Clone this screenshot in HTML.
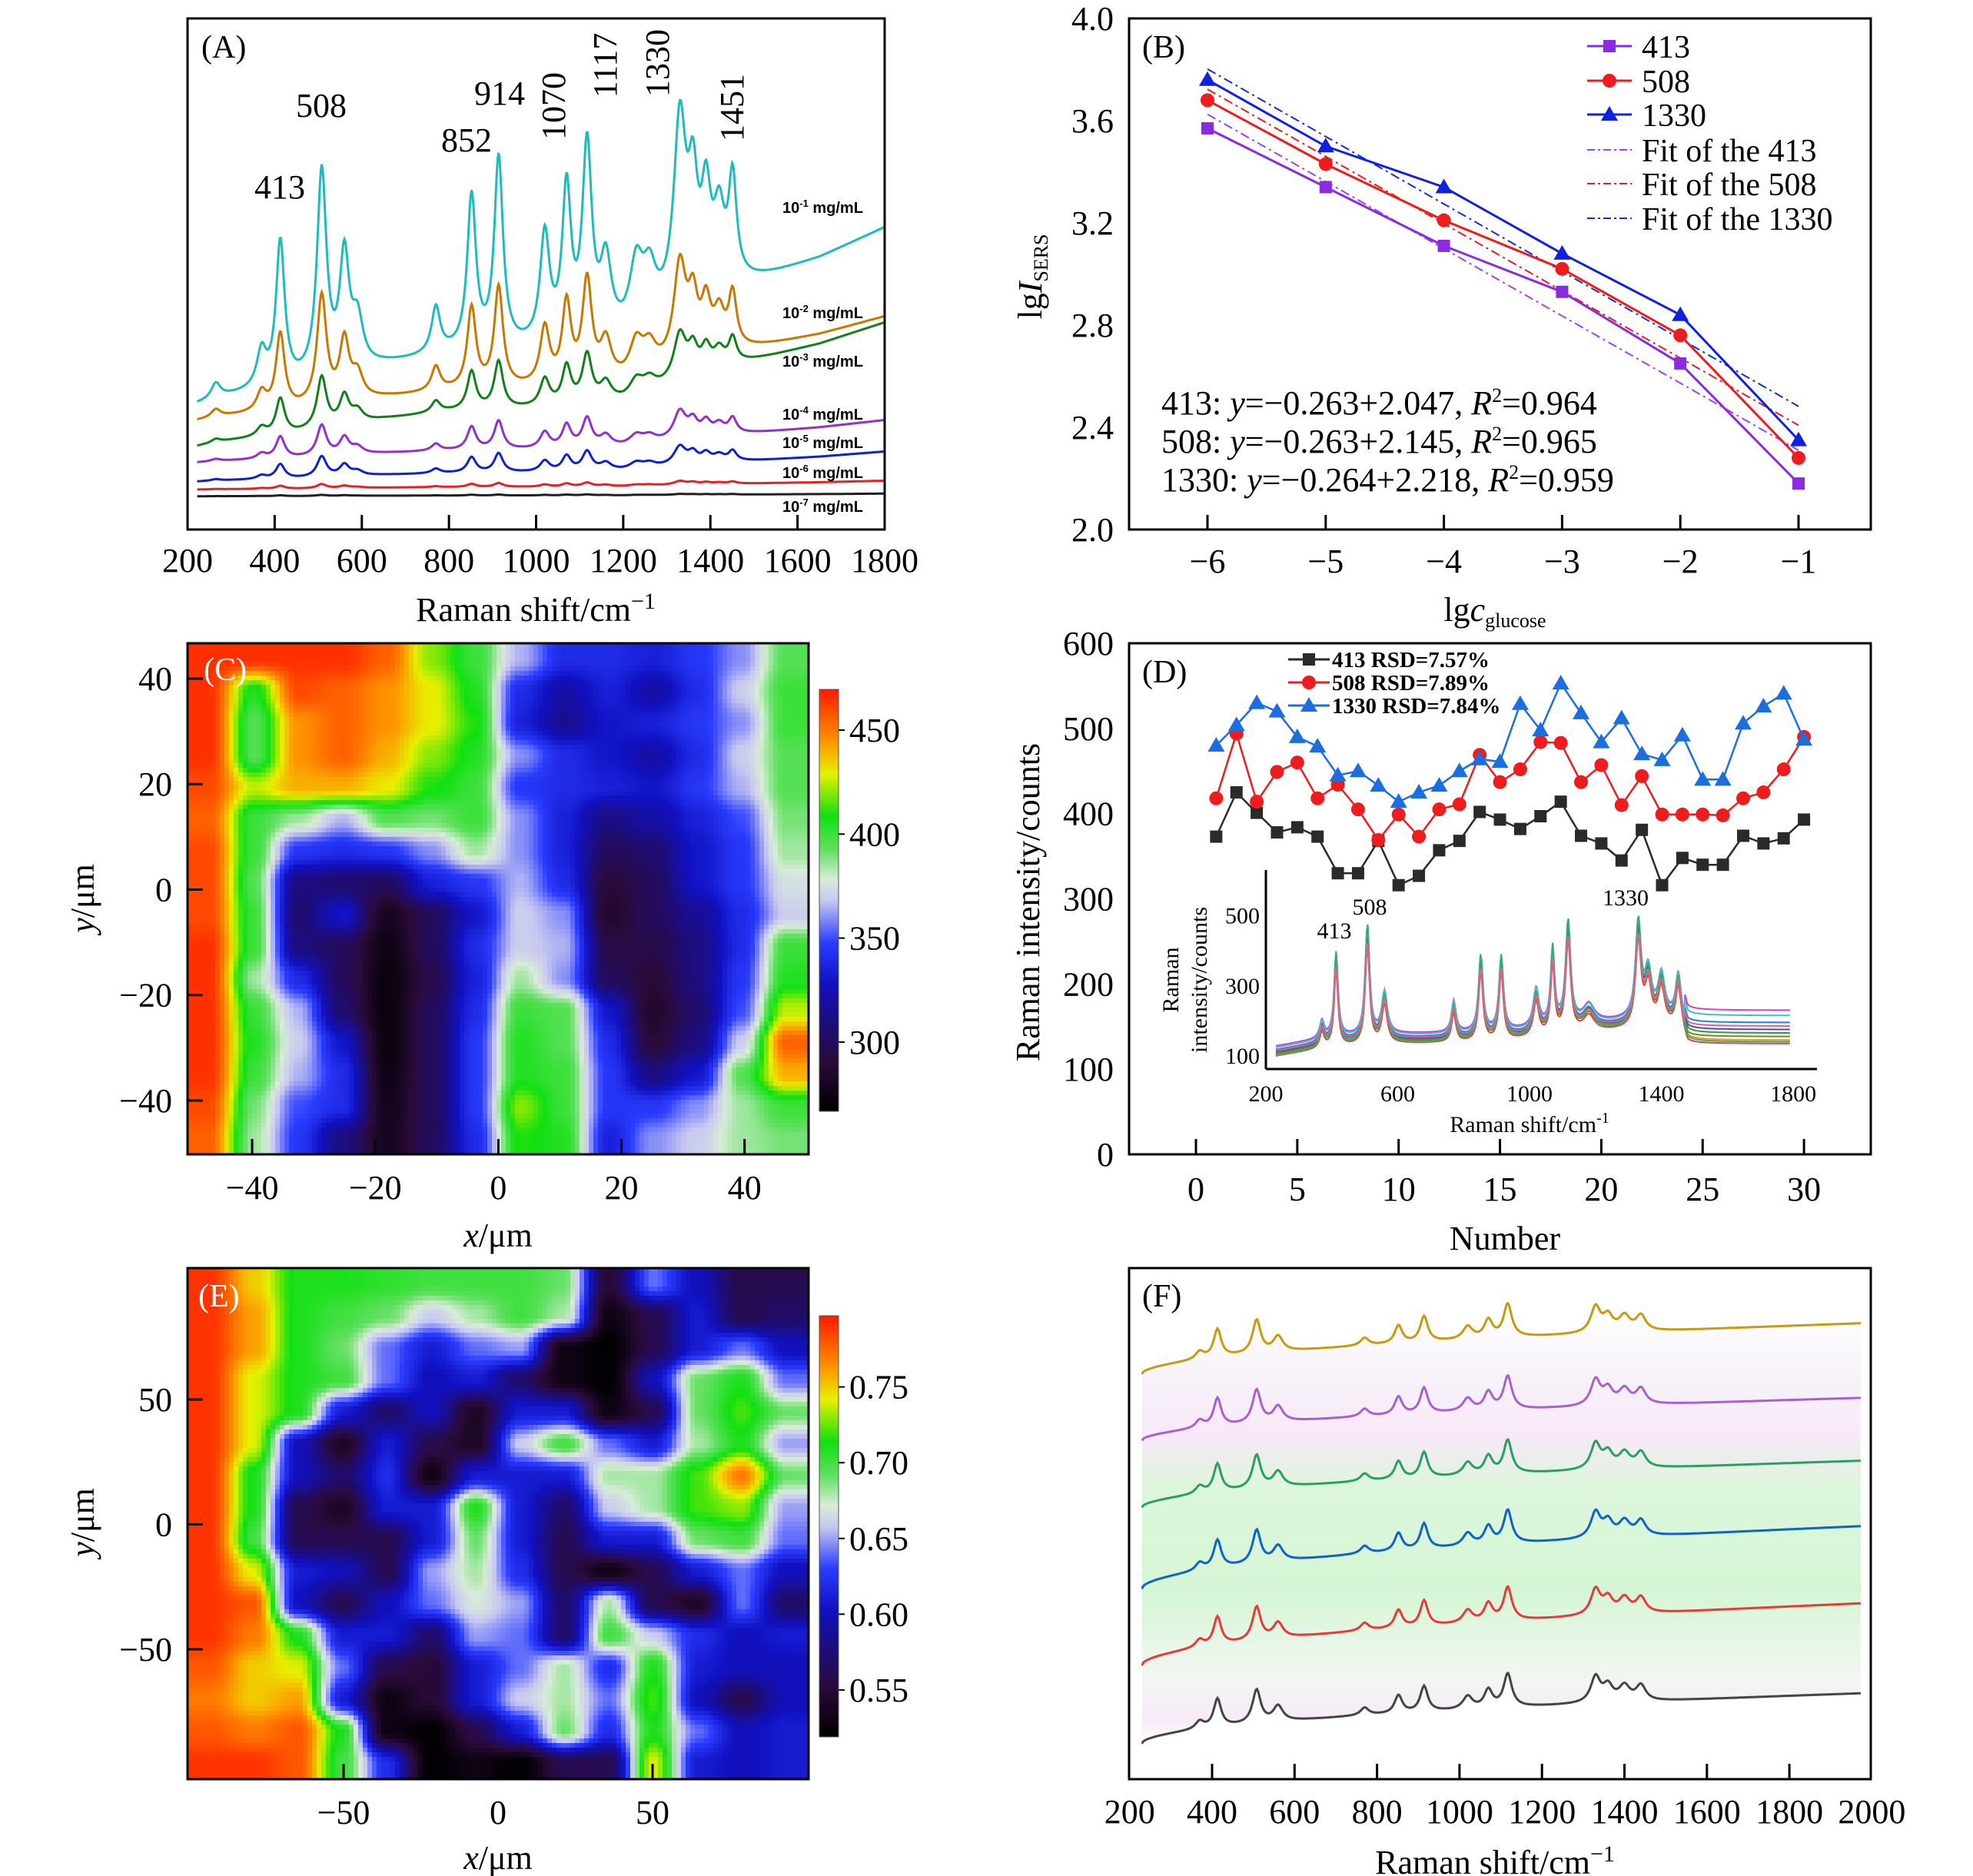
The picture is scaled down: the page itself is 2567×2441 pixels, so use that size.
<!DOCTYPE html>
<html><head><meta charset="utf-8"><title>SERS figure</title>
<style>
html,body{margin:0;padding:0;background:#fff;}
svg{display:block;font-family:"Liberation Serif","DejaVu Serif",serif;}
</style></head>
<body>
<svg id="fig" xmlns="http://www.w3.org/2000/svg" width="2567" height="2441" viewBox="0 0 2567 2441">
<defs>
  <linearGradient id="cmap" x1="0" y1="1" x2="0" y2="0">
    <stop offset="0" stop-color="#000000"/><stop offset="0.12" stop-color="#2a0a3a"/>
    <stop offset="0.3" stop-color="#1010c0"/><stop offset="0.4" stop-color="#2a3cff"/>
    <stop offset="0.5" stop-color="#c8c8f0"/><stop offset="0.55" stop-color="#d8ecd8"/>
    <stop offset="0.62" stop-color="#60e060"/><stop offset="0.7" stop-color="#10e010"/>
    <stop offset="0.8" stop-color="#e8f000"/><stop offset="0.88" stop-color="#ff9000"/>
    <stop offset="1" stop-color="#ff1a00"/>
  </linearGradient>
  <linearGradient id="fbg" x1="0" y1="0" x2="0" y2="1">
    <stop offset="0" stop-color="#ffffff"/><stop offset="0.18" stop-color="#f6f2f8"/>
    <stop offset="0.3" stop-color="#f8e8f8"/><stop offset="0.42" stop-color="#dcf6dc"/>
    <stop offset="0.65" stop-color="#d4f6d4"/><stop offset="0.85" stop-color="#f2f6f2"/>
    <stop offset="0.95" stop-color="#f8eaf8"/><stop offset="1" stop-color="#ffffff"/>
  </linearGradient>
  <clipPath id="clipC"><rect x="244" y="837" width="808" height="665"/></clipPath>
  <clipPath id="clipE"><rect x="244" y="1650" width="808" height="665"/></clipPath>
</defs>

<g>
  <g id="gA"></g>
  <rect x="244" y="24" width="907" height="665" fill="none" stroke="#000" stroke-width="3"/>
  <text x="262" y="75" font-size="42">(A)</text>
  <text x="697" y="808" font-size="44" text-anchor="middle">Raman shift/cm<tspan dy="-16" font-size="30">−1</tspan></text>
  <g font-size="44">
    <text x="364" y="258" text-anchor="middle">413</text>
    <text x="418" y="152" text-anchor="middle">508</text>
    <text x="607" y="197" text-anchor="middle">852</text>
    <text x="650" y="136" text-anchor="middle">914</text>
    <text transform="translate(735,138) rotate(-90)" text-anchor="middle">1070</text>
    <text transform="translate(802,85) rotate(-90)" text-anchor="middle">1117</text>
    <text transform="translate(870,82) rotate(-90)" text-anchor="middle">1330</text>
    <text transform="translate(967,140) rotate(-90)" text-anchor="middle">1451</text>
  </g>
  <g font-family="Liberation Sans, sans-serif" font-weight="bold" font-size="20">
    <text x="1018" y="277">10<tspan dy="-8" font-size="13">-1</tspan><tspan dy="8"> mg/mL</tspan></text>
    <text x="1018" y="414">10<tspan dy="-8" font-size="13">-2</tspan><tspan dy="8"> mg/mL</tspan></text>
    <text x="1018" y="477">10<tspan dy="-8" font-size="13">-3</tspan><tspan dy="8"> mg/mL</tspan></text>
    <text x="1018" y="546">10<tspan dy="-8" font-size="13">-4</tspan><tspan dy="8"> mg/mL</tspan></text>
    <text x="1018" y="583">10<tspan dy="-8" font-size="13">-5</tspan><tspan dy="8"> mg/mL</tspan></text>
    <text x="1018" y="622">10<tspan dy="-8" font-size="13">-6</tspan><tspan dy="8"> mg/mL</tspan></text>
    <text x="1018" y="666">10<tspan dy="-8" font-size="13">-7</tspan><tspan dy="8"> mg/mL</tspan></text>
  </g>
</g>

<g>
  <g id="gB"></g>
  <rect x="1469" y="24" width="965" height="665" fill="none" stroke="#000" stroke-width="3"/>
  <text x="1486" y="75" font-size="42">(B)</text>
  <text x="1945" y="808" font-size="44" text-anchor="middle">lg<tspan font-style="italic">c</tspan><tspan font-size="26" dy="8">glucose</tspan></text>
  <text transform="translate(1355,360) rotate(-90)" font-size="44" text-anchor="middle">lg<tspan font-style="italic">I</tspan><tspan font-size="26" dy="8">SERS</tspan></text>
  <g font-size="44">
    <text x="1511" y="539">413: <tspan font-style="italic">y</tspan>=−0.263+2.047, <tspan font-style="italic">R</tspan><tspan font-size="26" dy="-16">2</tspan><tspan dy="16">=0.964</tspan></text>
    <text x="1511" y="589">508: <tspan font-style="italic">y</tspan>=−0.263+2.145, <tspan font-style="italic">R</tspan><tspan font-size="26" dy="-16">2</tspan><tspan dy="16">=0.965</tspan></text>
    <text x="1511" y="639">1330: <tspan font-style="italic">y</tspan>=−0.264+2.218, <tspan font-style="italic">R</tspan><tspan font-size="26" dy="-16">2</tspan><tspan dy="16">=0.959</tspan></text>
  </g>
</g>

<g>
  <g clip-path="url(#clipC)"><g id="gC" shape-rendering="crispEdges"></g></g>
  <rect x="244" y="837" width="808" height="665" fill="none" stroke="#000" stroke-width="3"/>
  <g id="gCax"></g>
  <text x="265" y="885" font-size="42" fill="#fff">(C)</text>
  <text x="648" y="1622" font-size="44" text-anchor="middle"><tspan font-style="italic">x</tspan>/μm</text>
  <text transform="translate(122,1169) rotate(-90)" font-size="44" text-anchor="middle"><tspan font-style="italic">y</tspan>/μm</text>
  <rect x="1066" y="897" width="25" height="549" fill="url(#cmap)" stroke="#555" stroke-width="1"/>
</g>

<g>
  <g id="gD"></g>
  <rect x="1469" y="837" width="965" height="665" fill="none" stroke="#000" stroke-width="3"/>
  <text x="1486" y="888" font-size="42">(D)</text>
  <text x="1958" y="1626" font-size="44" text-anchor="middle">Number</text>
  <text transform="translate(1352,1174) rotate(-90)" font-size="44" text-anchor="middle">Raman intensity/counts</text>
  <text x="1990" y="1473" font-size="30" text-anchor="middle">Raman shift/cm<tspan dy="-12" font-size="20">-1</tspan></text>
  <text transform="translate(1533,1275) rotate(-90)" font-size="30" text-anchor="middle">Raman</text>
  <text transform="translate(1570,1275) rotate(-90)" font-size="30" text-anchor="middle">intensity/counts</text>
  <text x="1736" y="1221" font-size="30" text-anchor="middle">413</text>
  <text x="1782" y="1190" font-size="30" text-anchor="middle">508</text>
  <text x="2115" y="1178" font-size="30" text-anchor="middle">1330</text>
</g>

<g>
  <g clip-path="url(#clipE)"><g id="gE" shape-rendering="crispEdges"></g></g>
  <rect x="244" y="1650" width="808" height="665" fill="none" stroke="#000" stroke-width="3"/>
  <g id="gEax"></g>
  <text x="258" y="1700" font-size="42" fill="#fff">(E)</text>
  <text x="648" y="2432" font-size="44" text-anchor="middle"><tspan font-style="italic">x</tspan>/μm</text>
  <text transform="translate(122,1981) rotate(-90)" font-size="44" text-anchor="middle"><tspan font-style="italic">y</tspan>/μm</text>
  <rect x="1066" y="1712" width="25" height="548" fill="url(#cmap)" stroke="#555" stroke-width="1"/>
</g>

<g>
  <g id="gF"></g>
  <rect x="1469" y="1650" width="965" height="665" fill="none" stroke="#000" stroke-width="3"/>
  <text x="1486" y="1700" font-size="42">(F)</text>
  <text x="1945" y="2438" font-size="44" text-anchor="middle">Raman shift/cm<tspan dy="-16" font-size="30">−1</tspan></text>
</g>
</svg>

<script>
// ---------- Panel A data ----------
const peakPos = [265,370,413,508,560,590,770,852,914,1020,1070,1117,1160,1230,1260,1330,1360,1390,1420,1451];
const peakAmpA = [3,7,28,40,22,9,9,30,37,21,29,37,14,12,9,36,20,18,14,20];
const peakWidA = [13,13,12,13,13,15,12,12,12,13,12,13,15,18,18,17,13,13,15,11];
const baseX = [200,300,450,650,800,1000,1200,1480,1550,1650,1800];
const baseTop = [22,24,26,30,32,33,35,46,48,51,57];
const concLabels = ['1e-1','1e-2','1e-3','1e-4','1e-5','1e-6','1e-7'];
const concStart = [24,21,16,13,9.3,7.8,6.5];
const concSlope = [1,0.59,0.7,0.24,0.17,0.05,0.015];
const concScale = [1,0.53,0.25,0.15,0.1,0.02,0.005];
const concColor = ['#1cbcbc','#c87800','#12801a','#9030d0','#1020d0','#e82020','#202020'];
const aTicks = [200,400,600,800,1000,1200,1400,1600,1800];

// ---------- Panel B data ----------
const bX = [-6,-5,-4,-3,-2,-1];
const b413 = [3.57,3.34,3.11,2.93,2.65,2.18];
const b508 = [3.68,3.43,3.21,3.02,2.76,2.28];
const b1330 = [3.76,3.50,3.34,3.08,2.84,2.35];
const fitSlope = [-0.263,-0.263,-0.264];
const fitIntercept = [2.047,2.145,2.218];
const bYTicks = [2.0,2.4,2.8,3.2,3.6,4.0];
const bLegend = ['413','508','1330','Fit of the 413','Fit of the 508','Fit of the 1330'];

// ---------- Panel C data ----------
const cGrid = [
[465,465,465,465,455,420,400,365,340,340,335,345,360,395],
[465,405,460,455,445,430,405,340,320,335,320,340,370,400],
[465,395,445,455,445,430,410,335,315,330,335,345,360,400],
[465,395,445,455,440,420,405,360,340,330,320,340,370,395],
[460,425,440,440,430,410,400,345,340,335,330,345,365,395],
[455,400,385,365,395,390,400,360,335,310,320,335,350,390],
[460,400,345,340,345,360,385,360,335,300,305,330,345,385],
[460,395,310,305,300,335,345,365,340,290,300,330,345,375],
[460,400,305,330,280,300,330,370,360,285,300,315,340,370],
[465,400,310,300,275,300,340,370,365,295,295,310,340,400],
[465,385,340,300,272,295,335,385,360,300,290,310,345,405],
[465,400,365,305,272,300,340,400,395,330,285,305,350,425],
[465,405,370,330,272,300,345,405,395,340,290,310,370,455],
[465,400,365,340,275,300,345,405,400,345,310,330,395,440],
[460,390,350,340,278,300,345,420,400,345,345,360,385,400],
[455,385,345,310,280,300,340,410,405,335,360,370,385,390]];
const cXRange = [-50.5,50.4];
const cYRange = [46.7,-50.2];
const cRange = [266.7,469.6];
const cXTicks = [-40,-20,0,20,40];
const cYTicks = [40,20,0,-20,-40];
const cBarTicks = [300,350,400,450];

// ---------- Panel D data ----------
const dN = [1,2,3,4,5,6,7,8,9,10,11,12,13,14,15,16,17,18,19,20,21,22,23,24,25,26,27,28,29,30];
const d413 = [373,425,401,378,384,373,330,330,368,316,327,357,368,402,393,382,397,414,374,365,345,381,316,348,340,340,374,365,371,393];
const d508 = [418,494,414,449,460,418,434,405,369,399,373,405,411,469,437,452,484,483,437,457,410,444,399,399,399,398,418,425,452,490];
const d1330 = [480,504,530,520,490,479,445,450,433,414,425,433,450,464,461,529,498,553,518,484,512,470,463,492,440,440,506,526,541,487];
const dXTicks = [0,5,10,15,20,25,30];
const dYTicks = [0,100,200,300,400,500,600];
const dLegend = ['413 RSD=7.57%','508 RSD=7.89%','1330 RSD=7.84%'];
const insPeaks = [370,413,508,560,770,852,914,1020,1070,1117,1180,1330,1360,1400,1451];
const insAmps = [50,240,310,120,90,220,215,110,220,290,50,270,130,120,120];
const insWid = [8,7,8,10,8,8,8,10,7,9,20,10,12,12,9];
const insBaseX = [200,400,600,900,1150,1300,1460,1480,1800];
const insBaseV = [110,140,150,155,180,190,200,150,150];
const insScale = [1.0,0.95,1.05,0.9,1.08,0.97,1.02,0.92,1.1,0.88];
const insTail = [95,60,30,0,10,40,80,20,5,50];
const insColor = ['#d040d0','#2080e0','#20a040','#e04040','#e0a020','#6040c0','#40c0c0','#808020','#30b070','#e06090'];
const insXTicks = [200,600,1000,1400,1800];
const insYTicks = [100,300,500];

// ---------- Panel E data ----------
const eGrid = [
[.79,.75,.71,.71,.705,.70,.70,.70,.69,.55,.64,.60,.56,.56],
[.79,.76,.71,.70,.69,.66,.68,.70,.68,.53,.56,.61,.56,.57],
[.79,.76,.71,.69,.64,.61,.64,.65,.53,.52,.56,.61,.64,.60],
[.79,.74,.71,.70,.64,.60,.61,.57,.53,.52,.60,.69,.71,.64],
[.79,.74,.71,.61,.57,.60,.54,.61,.61,.53,.56,.69,.72,.69],
[.79,.74,.60,.54,.61,.56,.54,.66,.70,.64,.61,.68,.71,.65],
[.79,.71,.60,.57,.62,.53,.61,.61,.61,.68,.68,.72,.77,.69],
[.79,.71,.56,.54,.61,.61,.71,.61,.57,.66,.68,.72,.73,.65],
[.79,.70,.56,.56,.56,.61,.69,.61,.56,.61,.61,.69,.70,.64],
[.79,.74,.61,.60,.56,.65,.68,.62,.56,.53,.56,.61,.64,.60],
[.79,.78,.60,.56,.60,.64,.67,.65,.57,.68,.56,.54,.64,.57],
[.79,.77,.71,.61,.61,.57,.65,.64,.57,.70,.66,.62,.60,.61],
[.78,.75,.74,.64,.56,.55,.61,.64,.68,.62,.71,.61,.60,.60],
[.77,.75,.76,.61,.53,.55,.61,.66,.68,.64,.72,.60,.56,.60],
[.78,.77,.78,.71,.53,.52,.56,.61,.69,.62,.71,.64,.60,.61],
[.79,.79,.78,.70,.62,.52,.53,.52,.56,.56,.74,.61,.60,.61]];
const eXRange = [-100.5,100.5];
const eYRange = [102.6,-102];
const eRange = [0.519,0.797];
const eXTicks = [-50,0,50];
const eYTicks = [50,0,-50];
const eBarTicks = [0.55,0.60,0.65,0.70,0.75];

// ---------- Panel F data ----------
const fPeaks = [370,413,508,560,770,852,914,1020,1070,1117,1330,1360,1400,1440];
const fAmps = [1.5,5.5,6.5,3,1.5,3.5,5,2.5,3.5,6.5,5,3,3,3];
const fWid = [12,11,12,14,12,11,11,14,12,12,14,14,16,14];
const fStart = [79.2,66.2,53.1,37.2,22.2,6.9];
const fEnd = [89.2,74.6,62.3,49.5,34.4,16.8];
const fColor = ['#c89a10','#a860d0','#28a060','#1060d0','#e83838','#444444'];
const fXTicks = [200,400,600,800,1000,1200,1400,1600,1800,2000];

// ---------- helpers ----------
const NS = 'http://www.w3.org/2000/svg';
function mk(tag, attrs, parent, name) {
  const el = document.createElementNS(NS, tag);
  for (const k in attrs) el.setAttribute(k, attrs[k]);
  
  
  parent.appendChild(el);
  return el;
}
function label(parent, x, y, s, size, anchor, name) {
  const t = mk('text', {x: x, y: y, 'font-size': size, 'text-anchor': anchor}, parent, name);
  t.textContent = s;
  return t;
}
function interp(xs, vs, x) {
  if (x <= xs[0]) return vs[0];
  for (let i = 1; i < xs.length; i++) if (x <= xs[i]) { const f = (x - xs[i-1]) / (xs[i] - xs[i-1]); return vs[i-1] + f * (vs[i] - vs[i-1]); }
  return vs[vs.length-1];
}
function lor(x, pos, amp, wid) { let s = 0; for (let i = 0; i < pos.length; i++) { const d = (x - pos[i]) / wid[i]; s += amp[i] / (1 + d * d); } return s; }
function fmtMinus(v, dec) { const s = (Math.abs(v)).toFixed(dec); return (v < 0 ? '−' : '') + s; }
const cstops = [[0,[0,0,0]],[0.12,[42,10,58]],[0.3,[16,16,192]],[0.4,[42,60,255]],[0.5,[200,200,240]],[0.55,[216,236,216]],[0.62,[96,224,96]],[0.7,[16,224,16]],[0.8,[232,240,0]],[0.88,[255,144,0]],[1,[255,26,0]]];
function cmap(t) {
  t = Math.max(0, Math.min(1, t));
  for (let i = 1; i < cstops.length; i++) if (t <= cstops[i][0]) {
    const a = cstops[i-1], b = cstops[i], f = (t - a[0]) / (b[0] - a[0]);
    const c = a[1].map((v, k) => Math.round(v + f * (b[1][k] - v)));
    return 'rgb(' + c.join(',') + ')';
  }
  return 'rgb(255,26,0)';
}

// ---------- Panel A ----------
(function(){
  const g = document.getElementById('gA');
  const ax = x => 244 + (x - 200) / 1600 * 907;
  const ay = v => 689 - v * 6.65;
  for (let c = concLabels.length - 1; c >= 0; c--) {
    let d = '';
    for (let x = 222; x <= 1800; x += 2) {
      const b = concStart[c] + concSlope[c] * (interp(baseX, baseTop, x) - baseTop[0]);
      const v = b + concScale[c] * lor(x, peakPos, peakAmpA, peakWidA);
      d += (d ? 'L' : 'M') + ax(x).toFixed(1) + ',' + ay(v).toFixed(1);
    }
    mk('path', {d: d, fill: 'none', stroke: concColor[c], 'stroke-width': 3}, g, 'spectrum-' + concLabels[c]);
  }
  aTicks.forEach(t => {
    if (t > 200 && t < 1800) mk('line', {x1: ax(t), x2: ax(t), y1: 689, y2: 670, stroke: '#000', 'stroke-width': 3}, g, 'a-x-tick');
    label(g, ax(t), 744, String(t), 44, 'middle', 'a-x-tick-label');
  });
})();

// ---------- Panel B ----------
(function(){
  const g = document.getElementById('gB');
  const bx = x => 1571 + (x + 6) * 153.8;
  const by = v => 689 - (v - 2) * 332.5;
  const series = [b413, b508, b1330];
  const cols = ['#8a2be2', '#ee1c1c', '#1020e0'];
  const fitCols = ['#a040f0', '#ee1c1c', '#1030d0'];
  const markers = ['square', 'circle', 'triangle'];
  for (let s = 0; s < 3; s++) {
    const x0 = bX[0], x1 = bX[bX.length-1];
    mk('line', {x1: bx(x0), y1: by(fitIntercept[s] + fitSlope[s] * x0), x2: bx(x1), y2: by(fitIntercept[s] + fitSlope[s] * x1), stroke: fitCols[s], 'stroke-width': 2, 'stroke-dasharray': '12,5,3,5'}, g, 'fit-line-' + bLegend[s]);
  }
  function marker(type, x, y, col, name) {
    if (type === 'square') return mk('rect', {x: x - 8, y: y - 8, width: 16, height: 16, fill: col}, g, name);
    if (type === 'circle') return mk('circle', {cx: x, cy: y, r: 9, fill: col}, g, name);
    return mk('polygon', {points: (x) + ',' + (y - 11) + ' ' + (x - 11) + ',' + (y + 8) + ' ' + (x + 11) + ',' + (y + 8), fill: col}, g, name);
  }
  for (let s = 0; s < 3; s++) {
    const pts = bX.map((x, i) => bx(x).toFixed(1) + ',' + by(series[s][i]).toFixed(1)).join(' ');
    mk('polyline', {points: pts, fill: 'none', stroke: cols[s], 'stroke-width': 3}, g, 'series-line-' + bLegend[s]);
    bX.forEach((x, i) => marker(markers[s], bx(x), by(series[s][i]), cols[s], 'point-' + bLegend[s]));
  }
  bX.forEach(t => {
    mk('line', {x1: bx(t), x2: bx(t), y1: 689, y2: 670, stroke: '#000', 'stroke-width': 3}, g, 'b-x-tick');
    label(g, bx(t), 745, fmtMinus(t, 0), 44, 'middle', 'b-x-tick-label');
  });
  bYTicks.forEach(t => label(g, 1449, by(t) + 15, t.toFixed(1), 44, 'end', 'b-y-tick-label'));
  const ly = [60, 105, 149, 195, 239, 284];
  for (let i = 0; i < 6; i++) {
    if (i < 3) {
      mk('line', {x1: 2065, x2: 2123, y1: ly[i], y2: ly[i], stroke: cols[i], 'stroke-width': 3}, g, 'legend-line-' + bLegend[i]);
      marker(markers[i], 2094, ly[i], cols[i], 'legend-marker-' + bLegend[i]);
    } else {
      mk('line', {x1: 2065, x2: 2123, y1: ly[i], y2: ly[i], stroke: fitCols[i-3], 'stroke-width': 2, 'stroke-dasharray': '10,4,3,4'}, g, 'legend-line-fit-' + i);
    }
    label(g, 2136, ly[i] + 15, bLegend[i], 42, 'start', 'legend-entry-' + i);
  }
})();

// ---------- Heatmap helper (bilinear interpolation of grid) ----------
function heat(gid, axid, grid, xr, yr, vr, box, xticks, yticks, barTicks, barBox, dec, prefix) {
  const g = document.getElementById(gid);
  const gax = document.getElementById(axid);
  const sx = x => box.x + (x - xr[0]) / (xr[1] - xr[0]) * box.w;
  const sy = y => box.y + (y - yr[0]) / (yr[1] - yr[0]) * box.h;
  const rows = grid.length, cols = grid[0].length;
  const step = 6;
  function sample(fc, fr) {
    fc = Math.max(0, Math.min(cols - 1, fc)); fr = Math.max(0, Math.min(rows - 1, fr));
    const c0 = Math.floor(fc), r0 = Math.floor(fr);
    const c1 = Math.min(cols - 1, c0 + 1), r1 = Math.min(rows - 1, r0 + 1);
    const tc = fc - c0, tr = fr - r0;
    // smoothstep for softer look
    const sc = tc * tc * (3 - 2 * tc), sr = tr * tr * (3 - 2 * tr);
    const a = grid[r0][c0] * (1 - sc) + grid[r0][c1] * sc;
    const b = grid[r1][c0] * (1 - sc) + grid[r1][c1] * sc;
    return a * (1 - sr) + b * sr;
  }
  for (let py = box.y; py < box.y + box.h; py += step) {
    for (let px = box.x; px < box.x + box.w; px += step) {
      const fx = (px + step / 2 - box.x) / box.w * cols - 0.5;
      const fy = (py + step / 2 - box.y) / box.h * rows - 0.5;
      const v = sample(fx, fy);
      const t = (v - vr[0]) / (vr[1] - vr[0]);
      mk('rect', {x: px, y: py, width: step + 0.5, height: step + 0.5, fill: cmap(t)}, g, prefix + '-heat-cell');
    }
  }
  xticks.forEach(t => {
    mk('line', {x1: sx(t), x2: sx(t), y1: box.y + box.h, y2: box.y + box.h - 20, stroke: '#000', 'stroke-width': 3}, gax, prefix + '-x-tick');
    label(gax, sx(t), box.y + box.h + 58, fmtMinus(t, 0), 44, 'middle', prefix + '-x-tick-label');
  });
  yticks.forEach(t => {
    mk('line', {x1: box.x, x2: box.x + 20, y1: sy(t), y2: sy(t), stroke: '#000', 'stroke-width': 3}, gax, prefix + '-y-tick');
    label(gax, box.x - 20, sy(t) + 15, fmtMinus(t, 0), 44, 'end', prefix + '-y-tick-label');
  });
  const by = v => barBox.y + barBox.h - (v - vr[0]) / (vr[1] - vr[0]) * barBox.h;
  barTicks.forEach(t => {
    mk('line', {x1: barBox.x + barBox.w, x2: barBox.x + barBox.w + 8, y1: by(t), y2: by(t), stroke: '#000', 'stroke-width': 2}, gax, prefix + '-colorbar-tick');
    label(gax, barBox.x + barBox.w + 14, by(t) + 15, t.toFixed(dec), 44, 'start', prefix + '-colorbar-tick-label');
  });
}
heat('gC', 'gCax', cGrid, cXRange, cYRange, cRange, {x: 244, y: 837, w: 808, h: 665}, cXTicks, cYTicks, cBarTicks, {x: 1066, y: 897, w: 25, h: 549}, 0, 'c');
heat('gE', 'gEax', eGrid, eXRange, eYRange, eRange, {x: 244, y: 1650, w: 808, h: 665}, eXTicks, eYTicks, eBarTicks, {x: 1066, y: 1712, w: 25, h: 548}, 2, 'e');

// ---------- Panel D ----------
(function(){
  const g = document.getElementById('gD');
  const dx = n => 1556 + n * 26.37;
  const dy = v => 1502 - v * 1.1083;
  const ix = x => 1647 + (x - 200) * 0.4288;
  const iy = v => 1374 - (v - 100) * 0.456;
  for (let k = 0; k < insScale.length; k++) {
    let d = '';
    for (let x = 230; x <= 1790; x += 3) {
      let b = interp(insBaseX, insBaseV, x);
      if (x > 1470) b += insTail[k];
      else b += insTail[k] * 0.3;
      const v = b + insScale[k] * lor(x, insPeaks, insAmps, insWid) - 15;
      d += (d ? 'L' : 'M') + ix(x).toFixed(1) + ',' + iy(v).toFixed(1);
    }
    mk('path', {d: d, fill: 'none', stroke: insColor[k], 'stroke-width': 2}, g, 'inset-spectrum');
  }
  mk('line', {x1: 1647, x2: 1647, y1: 1132, y2: 1391, stroke: '#000', 'stroke-width': 3}, g, 'inset-y-axis');
  mk('line', {x1: 1647, x2: 2364, y1: 1391, y2: 1391, stroke: '#000', 'stroke-width': 3}, g, 'inset-x-axis');
  insXTicks.forEach(t => label(g, ix(t), 1433, String(t), 30, 'middle', 'inset-x-tick-label'));
  insYTicks.forEach(t => label(g, 1639, iy(t) + 10, String(t), 30, 'end', 'inset-y-tick-label'));
  const series = [d413, d508, d1330];
  const cols = ['#2a2a2a', '#ee1c1c', '#1a6ee0'];
  function marker(s, x, y, name) {
    if (s === 0) return mk('rect', {x: x - 8, y: y - 8, width: 16, height: 16, fill: cols[0]}, g, name);
    if (s === 1) return mk('circle', {cx: x, cy: y, r: 9, fill: cols[1]}, g, name);
    return mk('polygon', {points: x + ',' + (y - 11) + ' ' + (x - 11) + ',' + (y + 8) + ' ' + (x + 11) + ',' + (y + 8), fill: cols[2]}, g, name);
  }
  for (let s = 0; s < 3; s++) {
    const pts = dN.map((n, i) => dx(n).toFixed(1) + ',' + dy(series[s][i]).toFixed(1)).join(' ');
    mk('polyline', {points: pts, fill: 'none', stroke: cols[s], 'stroke-width': 2.5}, g, 'd-series-line-' + s);
    dN.forEach((n, i) => marker(s, dx(n), dy(series[s][i]), 'd-point-' + s));
  }
  dXTicks.forEach(t => {
    mk('line', {x1: dx(t), x2: dx(t), y1: 1502, y2: 1482, stroke: '#000', 'stroke-width': 3}, g, 'd-x-tick');
    label(g, dx(t), 1562, String(t), 44, 'middle', 'd-x-tick-label');
  });
  dYTicks.forEach(t => label(g, 1449, dy(t) + 15, String(t), 44, 'end', 'd-y-tick-label'));
  const ly = [858, 888, 918];
  for (let i = 0; i < 3; i++) {
    mk('line', {x1: 1676, x2: 1730, y1: ly[i], y2: ly[i], stroke: cols[i], 'stroke-width': 3}, g, 'd-legend-line-' + i);
    marker(i, 1703, ly[i], 'd-legend-marker-' + i);
    const t = label(g, 1733, ly[i] + 10, dLegend[i], 29, 'start', 'd-legend-entry-' + i);
    t.setAttribute('font-weight', 'bold');
  }
})();

// ---------- Panel F ----------
(function(){
  const g = document.getElementById('gF');
  const fx = x => 1469.7 + (x - 200) * 0.5365;
  const fy = v => 2315 - v * 6.65;
  const paths = [];
  for (let c = 0; c < fStart.length; c++) {
    const pts = [];
    for (let x = 230; x <= 1975; x += 3) {
      const f = (x - 230) / (1975 - 230);
      const b = fStart[c] + (fEnd[c] - fStart[c]) * Math.sqrt(f);
      pts.push([fx(x), fy(b + lor(x, fPeaks, fAmps, fWid))]);
    }
    paths.push(pts);
  }
  const top = paths[0], bot = paths[paths.length - 1];
  let bd = 'M' + top.map(p => p[0].toFixed(1) + ',' + p[1].toFixed(1)).join('L');
  bd += 'L' + bot.slice().reverse().map(p => p[0].toFixed(1) + ',' + p[1].toFixed(1)).join('L') + 'Z';
  mk('path', {d: bd, fill: 'url(#fbg)', stroke: 'none'}, g, 'f-background-band');
  paths.forEach((pts, c) => {
    const d = 'M' + pts.map(p => p[0].toFixed(1) + ',' + p[1].toFixed(1)).join('L');
    mk('path', {d: d, fill: 'none', stroke: fColor[c], 'stroke-width': 3}, g, 'f-spectrum-' + c);
  });
  fXTicks.forEach(t => {
    if (t > 200 && t < 2000) mk('line', {x1: fx(t), x2: fx(t), y1: 2315, y2: 2295, stroke: '#000', 'stroke-width': 3}, g, 'f-x-tick');
    label(g, fx(t), 2372, String(t), 44, 'middle', 'f-x-tick-label');
  });
})();
</script>
</body></html>
